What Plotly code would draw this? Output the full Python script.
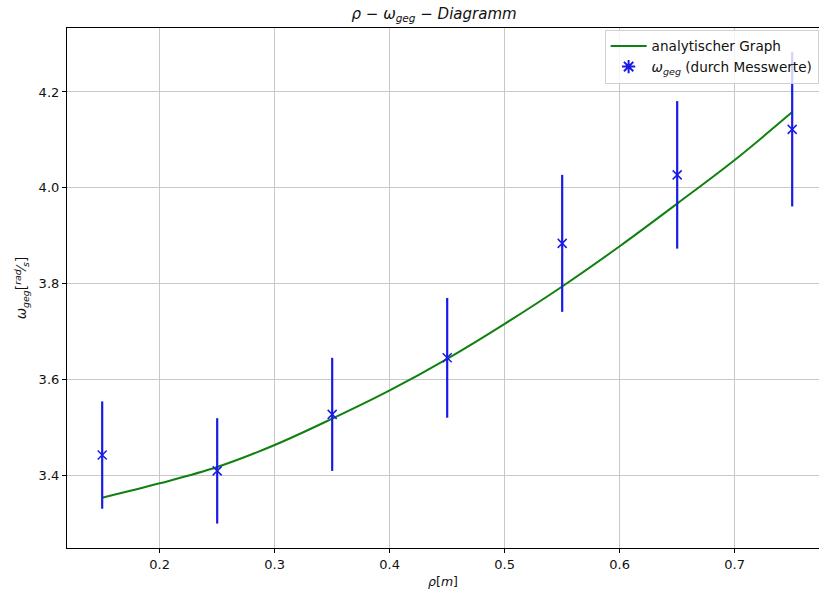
import plotly.graph_objects as go

# analytic curve
rho_curve = [0.15, 0.20, 0.25, 0.30, 0.35, 0.40, 0.45, 0.50, 0.55, 0.60, 0.65, 0.70, 0.75]
omega_curve = [3.353, 3.383, 3.417, 3.463, 3.518, 3.577, 3.643, 3.716, 3.794, 3.878, 3.967, 4.058, 4.158]

# measured values
rho_meas = [0.15, 0.25, 0.35, 0.45, 0.55, 0.65, 0.75]
omega_meas = [3.442, 3.409, 3.527, 3.645, 3.884, 4.027, 4.122]
omega_err = [0.112, 0.110, 0.118, 0.125, 0.143, 0.154, 0.161]

x_ticks = [0.2, 0.3, 0.4, 0.5, 0.6, 0.7]
y_ticks = [3.4, 3.6, 3.8, 4.0, 4.2]

FONT = "DejaVu Sans"
BLUE = "#1a1ae6"
GREEN = "#108010"

fig = go.Figure()

fig.add_trace(go.Scatter(
    x=rho_curve, y=omega_curve, mode="lines", line_shape="spline",
    line=dict(color=GREEN, width=2), name="analytischer Graph",
))

fig.add_trace(go.Scatter(
    x=rho_meas, y=omega_meas, mode="markers",
    marker=dict(symbol="x-thin", size=9, line=dict(color=BLUE, width=1.5), color=BLUE),
    error_y=dict(type="data", array=omega_err, visible=True, color=BLUE, thickness=2.2, width=0),
    showlegend=False,
))

# legend-only entry
fig.add_trace(go.Scatter(
    x=[None], y=[None], mode="markers",
    marker=dict(symbol="asterisk-open", size=11, color=BLUE, line=dict(color=BLUE, width=2)),
    name="<i>ω<sub>geg</sub></i> (durch Messwerte)",
))

fig.update_layout(
    width=819, height=594,
    margin=dict(l=67, r=0, t=28, b=46),
    paper_bgcolor="white", plot_bgcolor="white",
    font=dict(family=FONT, size=13, color="#111111"),
    title=dict(text="<i>ρ − ω<sub>geg</sub> − Diagramm</i>", x=0.53, xanchor="center",
               y=0.977, yanchor="middle", font=dict(size=15, color="#111111")),
    legend=dict(x=0.9995, xanchor="right", y=0.997, yanchor="top",
                bgcolor="rgba(255,255,255,0.8)", bordercolor="#d0d0d0", borderwidth=1,
                font=dict(size=13.6), tracegroupgap=0, itemwidth=36),
    showlegend=True,
)

fig.update_xaxes(
    range=[0.1194, 0.1194 + 752 / 1150], tickvals=x_ticks, ticktext=[str(v) for v in x_ticks],
    showgrid=True, gridcolor="#c8c8c8", gridwidth=1,
    showline=True, linecolor="black", linewidth=1.2, mirror=True,
    ticks="outside", ticklen=4, tickcolor="black", zeroline=False,
    title=dict(text="<i>ρ</i>[<i>m</i>]", font=dict(size=12.5), standoff=6),
)

fig.update_yaxes(
    range=[3.248, 4.3336], tickvals=y_ticks, ticktext=[f"{v:.1f}" for v in y_ticks],
    showgrid=True, gridcolor="#c8c8c8", gridwidth=1,
    showline=True, linecolor="black", linewidth=1.2, mirror=False,
    ticks="outside", ticklen=4, tickcolor="black", zeroline=False,
    title=dict(text="<i>ω<sub>geg</sub></i>[<sup><i>rad</i></sup>⁄<sub><i>s</i></sub>]", font=dict(size=13.5), standoff=8),
)

fig.write_html("out.html")
